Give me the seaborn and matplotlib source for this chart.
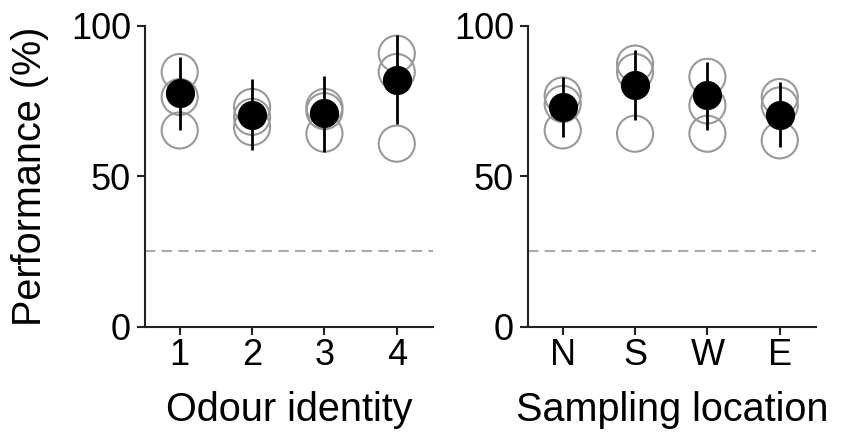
import numpy as np
import pandas as pd
import matplotlib
matplotlib.use('Agg')
import matplotlib.pyplot as plt
import seaborn as sns

# odour identity panel
odour_cats = ['1', '2', '3', '4']
odour_animals = [[84.6, 76.3, 65.2],
                 [73.0, 69.7, 66.3],
                 [73.0, 71.6, 64.1],
                 [90.7, 84.6, 60.8]]
odour_mean = [77.7, 70.2, 71.0, 81.8]
odour_lo = [65.2, 58.6, 58.0, 67.4]
odour_hi = [89.6, 82.4, 83.3, 97.0]

# sampling location panel
loc_cats = ['N', 'S', 'W', 'E']
loc_animals = [[76.8, 74.0, 65.2],
               [87.4, 84.6, 64.1],
               [83.0, 73.5, 64.1],
               [76.3, 73.5, 61.9]]
loc_mean = [73.0, 80.2, 76.8, 70.2]
loc_lo = [63.0, 68.5, 65.2, 59.7]
loc_hi = [83.0, 91.8, 87.9, 81.3]

chance = 25

sns.set_style('ticks')
plt.rcParams['font.family'] = ['Liberation Sans', 'DejaVu Sans']
plt.rcParams['text.color'] = 'black'
plt.rcParams['axes.labelcolor'] = 'black'

fig = plt.figure(figsize=(8.41, 4.32), dpi=100)
ax1 = fig.add_axes([0.1724, 0.2438, 0.3424, 0.6968])
ax2 = fig.add_axes([0.6278, 0.2438, 0.3424, 0.6968])


def draw_panel(ax, cats, animals, mean, lo, hi, xlabel, ylabel):
    df = pd.DataFrame({'cat': np.repeat(cats, [len(a) for a in animals]),
                       'perf': np.concatenate(animals)})
    pos = np.arange(len(cats))
    ax.axhline(chance, color='#aaaaaa', lw=1.5, ls=(0, (5, 3)), zorder=1)
    sns.stripplot(data=df, x='cat', y='perf', jitter=False, ax=ax,
                  marker='o', size=26, facecolor='none', edgecolor='#999999',
                  linewidth=1.5, zorder=2, clip_on=False)
    # make the individual animal markers hollow grey rings
    for coll in ax.collections:
        coll.set_facecolor('none')
        coll.set_edgecolor('#999999')
        coll.set_linewidth(1.5)
    yerr = [np.subtract(mean, lo), np.subtract(hi, mean)]
    ax.errorbar(pos, mean, yerr=yerr, fmt='o', color='black', ms=20,
                elinewidth=2, capsize=0, zorder=5, clip_on=False)
    ax.set_xlim(-0.48, 3.5)
    ax.set_ylim(0, 100)
    ax.set_yticks([0, 50, 100])
    ax.set_xticks(pos)
    ax.set_xticklabels(cats)
    sns.despine(ax=ax)
    for s in ['left', 'bottom']:
        ax.spines[s].set_linewidth(1.5)
        ax.spines[s].set_color('#222222')
    ax.tick_params(axis='both', labelsize=26, width=1.5, length=6,
                   color='#222222', labelcolor='black')
    ax.tick_params(axis='y', pad=4)
    ax.tick_params(axis='x', pad=2)
    ax.set_xlabel(xlabel, fontsize=28.5, color='black')
    ax.xaxis.set_label_coords(0.5, -0.215)
    ax.xaxis.label.set_va('top')
    if ylabel:
        ax.set_ylabel(ylabel, fontsize=28.5, color='black')
        ax.yaxis.set_label_coords(-0.40, 0.5)
        ax.yaxis.label.set_va('center')
    else:
        ax.set_ylabel('')


draw_panel(ax1, odour_cats, odour_animals, odour_mean, odour_lo, odour_hi,
           'Odour identity', 'Performance (%)')
draw_panel(ax2, loc_cats, loc_animals, loc_mean, loc_lo, loc_hi,
           'Sampling location', None)

fig.savefig('out.png', dpi=100)
